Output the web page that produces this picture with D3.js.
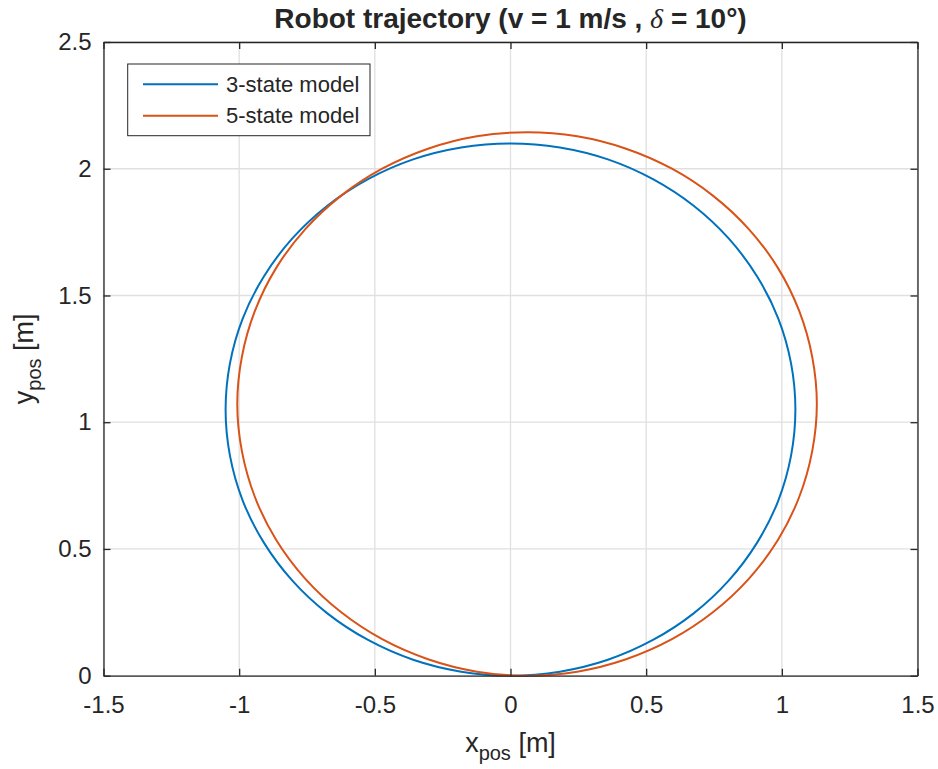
<!DOCTYPE html>
<html>
<head>
<meta charset="utf-8">
<script src="https://cdn.jsdelivr.net/npm/d3@7"></script>
<style>
  body { margin: 0; background: #fff; }
  svg { display: block; }
  text { font-family: "Liberation Sans", Arial, Helvetica, sans-serif; fill: #262626; }
</style>
</head>
<body>
<svg id="chart" width="938" height="769"></svg>
<script>
// Axis ticks
const xTicks = [-1.5, -1, -0.5, 0, 0.5, 1, 1.5];
const yTicks = [0, 0.5, 1, 1.5, 2, 2.5];
const xTickLabels = ["-1.5", "-1", "-0.5", "0", "0.5", "1", "1.5"];
const yTickLabels = ["0", "0.5", "1", "1.5", "2", "2.5"];

// Series names
const seriesNames = ["3-state model", "5-state model"];
const seriesColors = ["#0072BD", "#D95319"];

// 3-state model path (x, y in metres), counter-clockwise from the origin
const x3 = [0, 0.182, 0.359, 0.525, 0.675, 0.804, 0.909, 0.987, 1.034, 1.05, 1.034, 0.987, 0.909, 0.804, 0.675, 0.525, 0.359, 0.182, 0, -0.182, -0.359, -0.525, -0.675, -0.804, -0.909, -0.987, -1.034, -1.05, -1.034, -0.987, -0.909, -0.804, -0.675, -0.525, -0.359, -0.182];
const y3 = [0, 0.016, 0.063, 0.141, 0.246, 0.375, 0.525, 0.691, 0.868, 1.05, 1.232, 1.409, 1.575, 1.725, 1.854, 1.959, 2.037, 2.084, 2.1, 2.084, 2.037, 1.959, 1.854, 1.725, 1.575, 1.409, 1.232, 1.05, 0.868, 0.691, 0.525, 0.375, 0.246, 0.141, 0.063, 0.016];

// 5-state model path (x, y in metres), counter-clockwise from the lowest point
const x5 = [0.061, 0.246, 0.426, 0.595, 0.747, 0.879, 0.986, 1.064, 1.112, 1.129, 1.112, 1.064, 0.986, 0.879, 0.747, 0.595, 0.426, 0.246, 0.061, -0.124, -0.304, -0.473, -0.625, -0.757, -0.864, -0.942, -0.990, -1.007, -0.990, -0.942, -0.864, -0.757, -0.625, -0.473, -0.304, -0.124];
const y5 = [0.0, 0.016, 0.065, 0.144, 0.251, 0.383, 0.536, 0.705, 0.886, 1.072, 1.258, 1.439, 1.608, 1.761, 1.893, 2.0, 2.079, 2.128, 2.144, 2.128, 2.079, 2.0, 1.893, 1.761, 1.608, 1.439, 1.258, 1.072, 0.886, 0.705, 0.536, 0.383, 0.251, 0.144, 0.065, 0.016];

const svg = d3.select("#chart");
const m = { left: 103.5, right: 917.5, top: 42, bottom: 675.7 };

const x = d3.scaleLinear().domain([-1.5, 1.5]).range([m.left, m.right]);
const y = d3.scaleLinear().domain([0, 2.5]).range([m.bottom, m.top]);

const axisColor = "#262626";
const gridColor = "#e0e0e0";

// Grid
const grid = svg.append("g");
grid.selectAll(".gx").data(xTicks).join("line")
  .attr("x1", d => x(d)).attr("x2", d => x(d))
  .attr("y1", m.top).attr("y2", m.bottom)
  .attr("stroke", gridColor).attr("stroke-width", 1.3);
grid.selectAll(".gy").data(yTicks).join("line")
  .attr("y1", d => y(d)).attr("y2", d => y(d))
  .attr("x1", m.left).attr("x2", m.right)
  .attr("stroke", gridColor).attr("stroke-width", 1.3);

// Trajectories
const line = d3.line()
  .x(d => x(d[0])).y(d => y(d[1]))
  .curve(d3.curveCatmullRomClosed.alpha(0.5));

const series = [d3.zip(x3, y3), d3.zip(x5, y5)];

svg.append("g").selectAll("path").data(series).join("path")
  .attr("d", line)
  .attr("fill", "none")
  .attr("stroke", (d, i) => seriesColors[i])
  .attr("stroke-width", 2);

// Axes (ticks point inward, mirrored on top and right)
const tickLen = 7;
const fmtX = d => xTickLabels[xTicks.indexOf(d)];
const fmtY = d => yTickLabels[yTicks.indexOf(d)];

function styleAxis(g) {
  g.selectAll("path.domain").attr("stroke", axisColor).attr("stroke-width", 1.3);
  g.selectAll(".tick line").attr("stroke", axisColor).attr("stroke-width", 1.3);
  g.selectAll(".tick text").attr("fill", axisColor)
    .style("font-size", "24px")
    .style("font-family", "Liberation Sans, Arial, sans-serif");
}

svg.append("g")
  .attr("transform", `translate(0,${m.bottom})`)
  .call(d3.axisBottom(x).tickValues(xTicks).tickFormat(fmtX).tickSizeInner(-tickLen).tickSizeOuter(0).tickPadding(20))
  .call(styleAxis);

svg.append("g")
  .attr("transform", `translate(0,${m.top})`)
  .call(d3.axisTop(x).tickValues(xTicks).tickFormat("").tickSizeInner(-tickLen).tickSizeOuter(0))
  .call(styleAxis);

svg.append("g")
  .attr("transform", `translate(${m.left},0)`)
  .call(d3.axisLeft(y).tickValues(yTicks).tickFormat(fmtY).tickSizeInner(-tickLen).tickSizeOuter(0).tickPadding(12))
  .call(styleAxis);

svg.append("g")
  .attr("transform", `translate(${m.right},0)`)
  .call(d3.axisRight(y).tickValues(yTicks).tickFormat("").tickSizeInner(-tickLen).tickSizeOuter(0))
  .call(styleAxis);

// Title
const title = svg.append("text")
  .attr("x", (m.left + m.right) / 2).attr("y", 28)
  .attr("text-anchor", "middle")
  .style("font-size", "28px").style("font-weight", "bold");
title.append("tspan").text("Robot trajectory (v = 1 m/s , ");
title.append("tspan").text("δ")
  .style("font-family", "Liberation Serif, serif")
  .style("font-style", "italic").style("font-weight", "normal");
title.append("tspan").text(" = 10°)");

// Axis labels
const xl = svg.append("text")
  .attr("x", (m.left + m.right) / 2).attr("y", 752)
  .attr("text-anchor", "middle").style("font-size", "27px");
xl.append("tspan").text("x");
xl.append("tspan").text("pos").attr("dy", 8).style("font-size", "20px");
xl.append("tspan").text(" [m]").attr("dy", -8);

const yl = svg.append("text")
  .attr("transform", `translate(33,${(m.top + m.bottom) / 2}) rotate(-90)`)
  .attr("text-anchor", "middle").style("font-size", "27px");
yl.append("tspan").text("y");
yl.append("tspan").text("pos").attr("dy", 8).style("font-size", "20px");
yl.append("tspan").text(" [m]").attr("dy", -8);

// Legend
const lg = svg.append("g");
lg.append("rect")
  .attr("x", 127.7).attr("y", 64).attr("width", 242.3).attr("height", 71.7)
  .attr("fill", "#fff").attr("stroke", axisColor).attr("stroke-width", 1);
seriesNames.forEach((name, i) => {
  const ly = 84.3 + i * 31.4;
  lg.append("line")
    .attr("x1", 143).attr("x2", 218).attr("y1", ly).attr("y2", ly)
    .attr("stroke", seriesColors[i]).attr("stroke-width", 2);
  lg.append("text")
    .attr("x", 226).attr("y", ly).attr("dy", "0.35em")
    .style("font-size", "22px").text(name);
});
</script>
</body>
</html>
